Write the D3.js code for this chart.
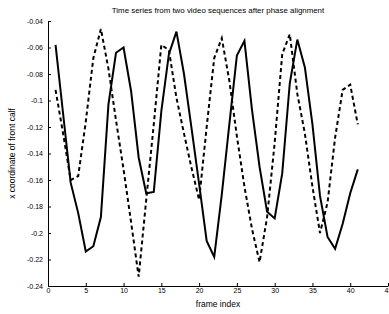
<!DOCTYPE html>
<html>
<head>
<meta charset="utf-8">
<script src="https://cdn.jsdelivr.net/npm/d3@7"></script>
<style>
  body { margin: 0; background: #fff; }
  svg { display: block; font-family: "Liberation Sans", Arial, sans-serif; }
</style>
</head>
<body>
<script>
var frames = d3.range(1, 42);
// first video sequence (solid)
var seqA = [-0.058, -0.110, -0.162, -0.185, -0.214, -0.210, -0.188, -0.103, -0.064, -0.060,
            -0.093, -0.143, -0.170, -0.169, -0.108, -0.065, -0.048, -0.080, -0.121, -0.163,
            -0.206, -0.218, -0.171, -0.118, -0.066, -0.055, -0.107, -0.150, -0.184, -0.189,
            -0.155, -0.087, -0.054, -0.075, -0.118, -0.172, -0.203, -0.212, -0.193, -0.170,
            -0.152];
// second video sequence (dashed)
var seqB = [-0.092, -0.125, -0.160, -0.157, -0.116, -0.068, -0.046, -0.076, -0.115, -0.152,
            -0.192, -0.233, -0.175, -0.118, -0.058, -0.062, -0.098, -0.125, -0.151, -0.175,
            -0.120, -0.068, -0.053, -0.085, -0.127, -0.165, -0.197, -0.222, -0.188, -0.132,
            -0.065, -0.050, -0.095, -0.125, -0.165, -0.200, -0.177, -0.128, -0.092, -0.088,
            -0.118];
var xTicks = d3.range(0, 46, 5);
var yTicks = [-0.24, -0.22, -0.2, -0.18, -0.16, -0.14, -0.12, -0.1, -0.08, -0.06, -0.04];

function init() {
    var w = 389, h = 314;
    var mLeft = 48, mRight = 388, mTop = 21, mBottom = 286;

    var svg = d3.select("body").append("svg")
        .attr("width", w)
        .attr("height", h);

    var x = d3.scaleLinear().domain([0, 45]).range([mLeft, mRight]);
    var y = d3.scaleLinear().domain([-0.24, -0.04]).range([mBottom, mTop]);

    // axes, MATLAB style ticks pointing inward
    var xAxis = svg.append("g")
        .attr("transform", "translate(0," + mBottom + ")")
        .call(d3.axisBottom(x).tickValues(xTicks).tickSizeInner(-3).tickSizeOuter(0).tickPadding(2));
    var yAxis = svg.append("g")
        .attr("transform", "translate(" + mLeft + ",0)")
        .call(d3.axisLeft(y).tickValues(yTicks).tickSizeInner(-3).tickSizeOuter(0).tickPadding(5)
            .tickFormat(function (d) { return String(+d.toFixed(2)); }));

    [xAxis, yAxis].forEach(function (g) {
        g.select(".domain").attr("stroke", "#000").attr("stroke-width", 1);
        g.selectAll(".tick line").attr("stroke", "#000");
        g.selectAll(".tick text").attr("fill", "#000").attr("font-size", 7)
            .attr("font-family", "Liberation Sans, Arial, sans-serif");
    });

    var line = d3.line()
        .x(function (d) { return x(d[0]); })
        .y(function (d) { return y(d[1]); });

    svg.append("path")
        .datum(d3.zip(frames, seqB))
        .attr("d", line)
        .attr("fill", "none")
        .attr("stroke", "#000")
        .attr("stroke-width", 2)
        .attr("stroke-dasharray", "4,3");

    svg.append("path")
        .datum(d3.zip(frames, seqA))
        .attr("d", line)
        .attr("fill", "none")
        .attr("stroke", "#000")
        .attr("stroke-width", 2)
        .attr("stroke-linejoin", "miter");

    // title and labels
    svg.append("text")
        .attr("x", (mLeft + mRight) / 2)
        .attr("y", 13)
        .attr("text-anchor", "middle")
        .attr("font-size", 7.9)
        .text("Time series from two video sequences after phase alignment");

    svg.append("text")
        .attr("x", (mLeft + mRight) / 2)
        .attr("y", 307)
        .attr("text-anchor", "middle")
        .attr("font-size", 8.5)
        .text("frame index");

    svg.append("text")
        .attr("transform", "translate(15," + (mTop + mBottom) / 2 + ") rotate(-90)")
        .attr("text-anchor", "middle")
        .attr("font-size", 8.5)
        .text("x coordinate of front calf");
}
window.onload = init;
</script>
</body>
</html>
